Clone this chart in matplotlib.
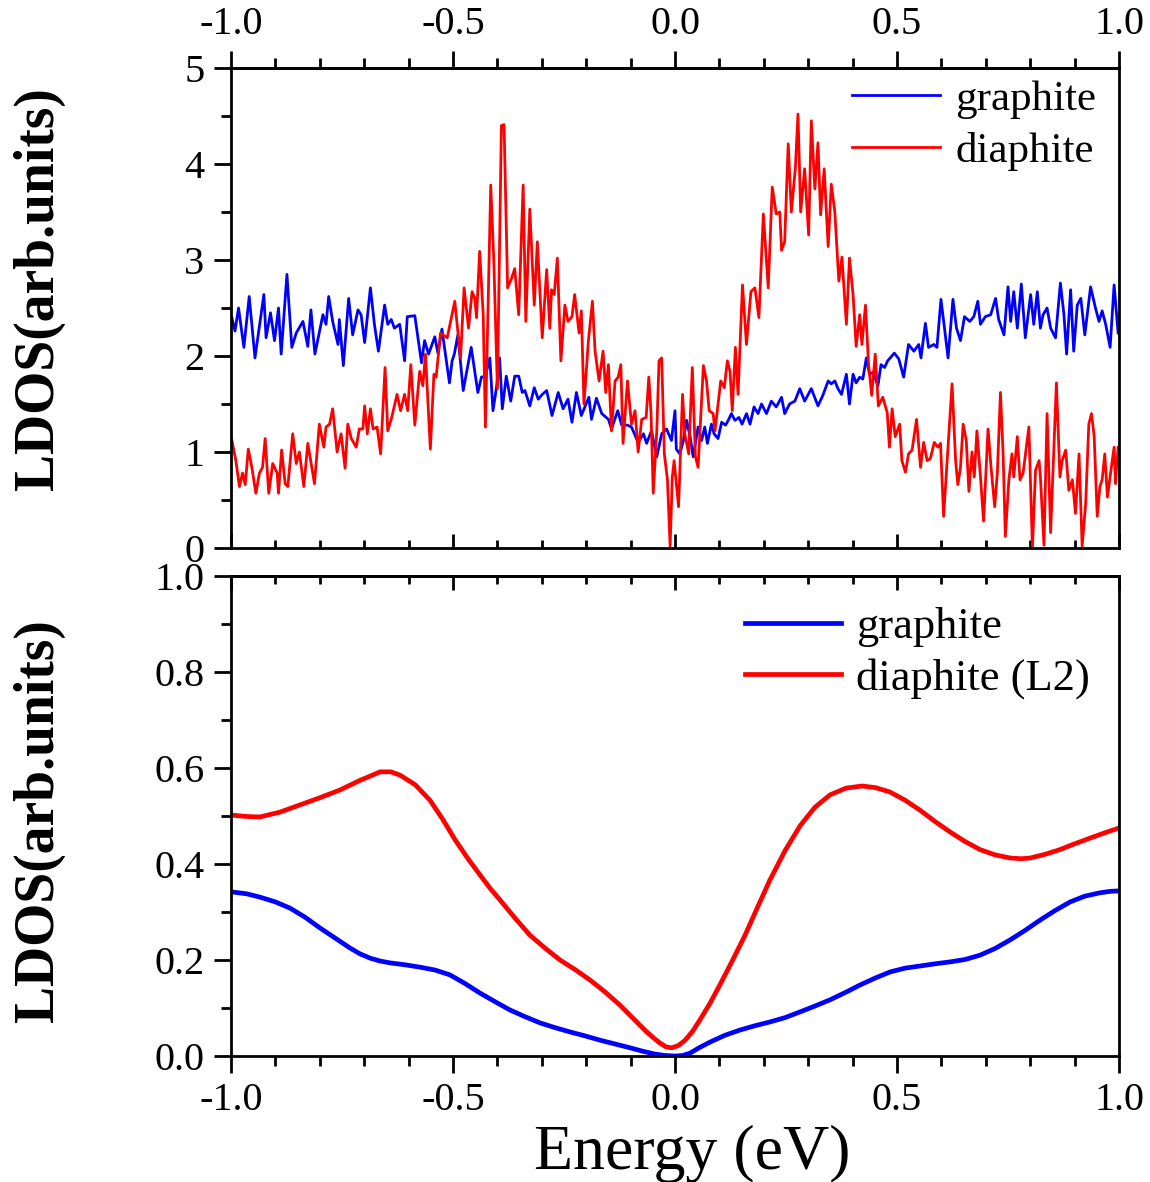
import numpy as np
import matplotlib
matplotlib.use("Agg")
import matplotlib.pyplot as plt
from matplotlib.ticker import MultipleLocator, FormatStrFormatter

plt.rcParams['font.family'] = ['Liberation Serif', 'DejaVu Serif']
plt.rcParams['axes.unicode_minus'] = False

# ---- top panel: raw LDOS ----
e_graphite = [-0.998, -0.991, -0.983, -0.971, -0.959, -0.946, -0.926, -0.921, -0.911, -0.902,
              -0.893, -0.887, -0.874, -0.863, -0.853, -0.838, -0.827, -0.820, -0.811, -0.793,
              -0.786, -0.780, -0.771, -0.759, -0.756, -0.747, -0.735, -0.726, -0.714, -0.707,
              -0.699, -0.686, -0.677, -0.668, -0.654, -0.647, -0.639, -0.632, -0.620, -0.609,
              -0.603, -0.586, -0.571, -0.564, -0.555, -0.541, -0.534, -0.525, -0.508, -0.502,
              -0.497, -0.489, -0.477, -0.459, -0.444, -0.436, -0.427, -0.417, -0.410, -0.402,
              -0.395, -0.389, -0.380, -0.370, -0.361, -0.352, -0.344, -0.338, -0.327, -0.317,
              -0.308, -0.299, -0.289, -0.277, -0.263, -0.252, -0.241, -0.232, -0.222, -0.211,
              -0.194, -0.188, -0.177, -0.165, -0.150, -0.143, -0.129, -0.120, -0.107, -0.098,
              -0.083, -0.071, -0.064, -0.053, -0.041, -0.030, -0.019, -0.008, 0.000, 0.003,
              0.011, 0.019, 0.026, 0.034, 0.041, 0.052, 0.060, 0.067, 0.073, 0.082,
              0.088, 0.097, 0.105, 0.114, 0.120, 0.127, 0.135, 0.144, 0.151, 0.161,
              0.169, 0.178, 0.187, 0.195, 0.206, 0.217, 0.228, 0.240, 0.247, 0.258,
              0.270, 0.281, 0.292, 0.307, 0.322, 0.333, 0.345, 0.352, 0.360, 0.367,
              0.375, 0.386, 0.393, 0.401, 0.408, 0.416, 0.423, 0.431, 0.438, 0.446,
              0.457, 0.464, 0.472, 0.479, 0.494, 0.504, 0.515, 0.526, 0.538, 0.549,
              0.554, 0.564, 0.571, 0.583, 0.590, 0.599, 0.607, 0.615, 0.626, 0.634,
              0.643, 0.652, 0.664, 0.673, 0.682, 0.688, 0.699, 0.711, 0.722, 0.729,
              0.741, 0.750, 0.756, 0.763, 0.771, 0.780, 0.789, 0.801, 0.808, 0.816,
              0.823, 0.829, 0.838, 0.846, 0.857, 0.868, 0.876, 0.882, 0.891, 0.898,
              0.906, 0.914, 0.923, 0.936, 0.947, 0.955, 0.962, 0.970, 0.980, 0.989,
              0.998]
ldos_graphite = [2.40, 2.26, 2.50, 2.09, 2.62, 1.98, 2.64, 2.19, 2.45, 2.16,
                 2.50, 2.02, 2.85, 2.09, 2.24, 2.36, 2.10, 2.48, 2.02, 2.43,
                 2.33, 2.62, 2.36, 2.12, 2.38, 1.90, 2.60, 2.22, 2.48, 2.43,
                 2.14, 2.71, 2.33, 2.05, 2.53, 2.33, 2.38, 2.29, 2.33, 1.95,
                 2.41, 2.42, 1.93, 2.16, 2.02, 2.20, 2.03, 2.28, 1.72, 1.95,
                 2.02, 2.22, 1.64, 2.09, 1.62, 1.78, 1.79, 1.98, 1.43, 1.67,
                 1.98, 1.45, 1.79, 1.53, 1.79, 1.79, 1.62, 1.64, 1.48, 1.67,
                 1.55, 1.60, 1.64, 1.38, 1.62, 1.45, 1.55, 1.31, 1.62, 1.38,
                 1.57, 1.34, 1.56, 1.40, 1.34, 1.24, 1.43, 1.28, 1.28, 1.26,
                 1.10, 1.19, 1.09, 1.22, 0.95, 1.19, 1.24, 1.12, 1.43, 1.03,
                 0.98, 1.12, 1.33, 1.16, 0.95, 1.26, 1.12, 1.26, 1.09, 1.29,
                 1.19, 1.14, 1.31, 1.28, 1.33, 1.40, 1.33, 1.36, 1.29, 1.40,
                 1.29, 1.47, 1.40, 1.50, 1.40, 1.53, 1.47, 1.57, 1.40, 1.50,
                 1.53, 1.66, 1.53, 1.66, 1.48, 1.59, 1.74, 1.71, 1.74, 1.66,
                 1.60, 1.81, 1.50, 1.81, 1.72, 1.78, 1.76, 1.98, 1.81, 1.83,
                 1.69, 1.91, 1.88, 1.95, 2.03, 1.97, 1.78, 2.12, 2.05, 2.12,
                 1.98, 2.34, 2.09, 2.12, 2.09, 2.59, 2.29, 1.98, 2.59, 2.29,
                 2.16, 2.41, 2.36, 2.41, 2.57, 2.33, 2.41, 2.43, 2.60, 2.38,
                 2.22, 2.72, 2.36, 2.67, 2.29, 2.75, 2.19, 2.64, 2.33, 2.67,
                 2.29, 2.43, 2.50, 2.29, 2.19, 2.76, 2.43, 2.02, 2.69, 2.05,
                 2.53, 2.60, 2.22, 2.72, 2.50, 2.36, 2.47, 2.33, 2.09, 2.74,
                 2.24]

e_diaphite = [-0.998, -0.989, -0.981, -0.974, -0.968, -0.961, -0.953, -0.944, -0.936, -0.929,
              -0.923, -0.915, -0.906, -0.896, -0.893, -0.886, -0.878, -0.872, -0.861, -0.853,
              -0.846, -0.836, -0.827, -0.812, -0.801, -0.791, -0.786, -0.778, -0.771, -0.761,
              -0.752, -0.743, -0.737, -0.729, -0.718, -0.711, -0.703, -0.699, -0.693, -0.686,
              -0.680, -0.671, -0.663, -0.653, -0.647, -0.638, -0.626, -0.618, -0.609, -0.602,
              -0.595, -0.586, -0.575, -0.568, -0.562, -0.551, -0.543, -0.538, -0.528, -0.520,
              -0.513, -0.496, -0.483, -0.475, -0.465, -0.457, -0.451, -0.447, -0.440, -0.432,
              -0.427, -0.415, -0.408, -0.400, -0.391, -0.385, -0.377, -0.368, -0.361, -0.352,
              -0.342, -0.336, -0.327, -0.317, -0.310, -0.299, -0.289, -0.282, -0.278, -0.272,
              -0.265, -0.257, -0.248, -0.241, -0.232, -0.226, -0.216, -0.211, -0.205, -0.195,
              -0.186, -0.180, -0.171, -0.162, -0.156, -0.150, -0.143, -0.135, -0.128, -0.122,
              -0.117, -0.107, -0.098, -0.090, -0.083, -0.075, -0.065, -0.059, -0.054, -0.049,
              -0.041, -0.036, -0.030, -0.024, -0.017, -0.011, -0.006, -0.002, 0.008, 0.017,
              0.022, 0.031, 0.039, 0.046, 0.052, 0.064, 0.071, 0.077, 0.086, 0.090,
              0.103, 0.111, 0.118, 0.124, 0.129, 0.136, 0.142, 0.152, 0.161, 0.171,
              0.180, 0.189, 0.199, 0.210, 0.219, 0.228, 0.236, 0.240, 0.247, 0.255,
              0.262, 0.271, 0.277, 0.283, 0.292, 0.301, 0.307, 0.315, 0.322, 0.328,
              0.336, 0.345, 0.352, 0.360, 0.369, 0.376, 0.386, 0.393, 0.401, 0.408,
              0.416, 0.421, 0.429, 0.436, 0.443, 0.451, 0.458, 0.468, 0.478, 0.483,
              0.489, 0.496, 0.506, 0.511, 0.519, 0.526, 0.534, 0.544, 0.553, 0.560,
              0.568, 0.575, 0.584, 0.592, 0.598, 0.605, 0.613, 0.624, 0.632, 0.637,
              0.643, 0.649, 0.656, 0.662, 0.669, 0.674, 0.680, 0.688, 0.695, 0.705,
              0.712, 0.720, 0.726, 0.733, 0.739, 0.744, 0.752, 0.759, 0.763, 0.771,
              0.777, 0.784, 0.797, 0.805, 0.812, 0.820, 0.823, 0.831, 0.838, 0.846,
              0.859, 0.867, 0.872, 0.880, 0.887, 0.895, 0.902, 0.910, 0.917, 0.925,
              0.932, 0.938, 0.944, 0.951, 0.957, 0.962, 0.968, 0.974, 0.981, 0.989,
              0.992, 0.998]
ldos_diaphite = [1.12, 0.91, 0.64, 0.78, 0.66, 1.03, 0.84, 0.57, 0.78, 0.84,
                 1.14, 0.57, 0.88, 0.78, 0.57, 1.02, 0.67, 0.64, 1.19, 0.88,
                 1.00, 0.64, 1.09, 0.67, 1.29, 1.05, 1.26, 1.29, 1.45, 1.00,
                 1.19, 0.83, 1.29, 1.14, 1.05, 1.24, 1.24, 1.48, 1.19, 1.45,
                 1.24, 1.26, 0.98, 1.88, 1.22, 1.36, 1.60, 1.43, 1.60, 1.43,
                 1.91, 1.28, 1.84, 1.69, 2.02, 1.03, 1.81, 1.78, 2.24, 2.21,
                 2.19, 2.57, 1.98, 2.71, 2.29, 2.67, 2.60, 2.40, 3.09, 2.43,
                 1.26, 3.78, 2.98, 1.66, 4.40, 4.41, 2.71, 2.81, 2.91, 2.43,
                 3.78, 2.36, 3.53, 2.53, 3.19, 2.19, 2.90, 2.29, 2.69, 2.64,
                 3.02, 1.95, 2.53, 2.36, 2.41, 2.64, 2.24, 2.47, 1.50, 2.16,
                 2.57, 2.05, 1.74, 2.05, 1.62, 1.91, 1.22, 1.74, 1.78, 1.91,
                 1.09, 1.74, 1.29, 1.43, 1.00, 1.34, 1.36, 1.78, 1.40, 0.57,
                 1.22, 1.95, 1.98, 0.98, 0.71, 0.02, 0.74, 0.91, 0.43, 1.60,
                 1.19, 0.98, 1.88, 0.95, 0.84, 1.90, 1.74, 1.43, 1.40, 1.22,
                 1.74, 1.67, 1.95, 1.84, 1.43, 2.09, 1.60, 2.74, 2.12, 2.67,
                 2.71, 2.40, 3.48, 2.71, 3.76, 3.48, 3.50, 3.10, 3.19, 4.21,
                 3.50, 3.95, 4.52, 3.50, 3.95, 3.26, 4.45, 3.74, 4.22, 3.47,
                 3.95, 3.14, 3.79, 3.50, 2.78, 3.03, 2.33, 3.02, 2.64, 2.10,
                 2.43, 2.12, 2.53, 1.91, 1.59, 2.02, 1.48, 1.57, 1.41, 1.05,
                 1.45, 1.16, 1.29, 0.91, 0.79, 0.98, 1.02, 1.34, 0.84, 1.10,
                 0.91, 0.93, 1.10, 1.05, 1.09, 0.33, 0.91, 1.71, 0.91, 0.66,
                 0.84, 1.29, 1.12, 0.59, 1.00, 0.74, 1.22, 0.74, 0.28, 1.24,
                 0.83, 0.43, 0.78, 1.62, 0.98, 0.12, 0.71, 0.98, 0.74, 1.16,
                 0.71, 0.78, 1.26, 0.00, 0.81, 0.91, 0.74, 0.03, 1.40, 0.16,
                 1.72, 0.74, 0.91, 1.02, 0.60, 0.71, 0.36, 0.98, 0.02, 0.47,
                 1.29, 1.40, 1.17, 0.33, 0.64, 0.71, 0.98, 0.53, 0.78, 1.05,
                 0.67, 1.05]

# ---- bottom panel: smoothed LDOS ----
e_graphite_s = [-1.0, -0.965, -0.935, -0.9, -0.867, -0.833, -0.8, -0.766, -0.732, -0.71,
                -0.687, -0.665, -0.642, -0.608, -0.574, -0.54, -0.507, -0.473, -0.439, -0.405,
                -0.372, -0.338, -0.304, -0.27, -0.236, -0.203, -0.169, -0.135, -0.101, -0.073,
                -0.045, -0.022, 0.0, 0.017, 0.034, 0.056, 0.079, 0.112, 0.146, 0.18,
                0.214, 0.248, 0.282, 0.315, 0.349, 0.383, 0.417, 0.45, 0.484, 0.518,
                0.552, 0.585, 0.619, 0.653, 0.687, 0.721, 0.755, 0.789, 0.822, 0.856,
                0.89, 0.923, 0.957, 0.98, 1.0]
ldos_graphite_s = [0.342, 0.338, 0.331, 0.321, 0.308, 0.289, 0.267, 0.246, 0.225, 0.213,
                   0.204, 0.198, 0.194, 0.19, 0.185, 0.179, 0.169, 0.151, 0.131, 0.113,
                   0.096, 0.082, 0.069, 0.059, 0.050, 0.042, 0.033, 0.025, 0.017, 0.010,
                   0.004, 0.001, 0.0, 0.001, 0.006, 0.018, 0.029, 0.043, 0.054, 0.063,
                   0.071, 0.080, 0.092, 0.104, 0.117, 0.132, 0.148, 0.162, 0.175, 0.183,
                   0.1875, 0.192, 0.196, 0.201, 0.210, 0.224, 0.242, 0.262, 0.283, 0.303,
                   0.321, 0.333, 0.340, 0.343, 0.344]

e_diaphite_s = [-1.0, -0.965, -0.935, -0.89, -0.845, -0.8, -0.755, -0.71, -0.664, -0.64,
                -0.619, -0.585, -0.552, -0.523, -0.495, -0.467, -0.439, -0.417, -0.394, -0.36,
                -0.327, -0.293, -0.259, -0.225, -0.191, -0.157, -0.124, -0.096, -0.068, -0.05,
                -0.034, -0.02, -0.007, 0.008, 0.023, 0.04, 0.056, 0.079, 0.101, 0.13,
                0.158, 0.186, 0.214, 0.248, 0.282, 0.315, 0.349, 0.385, 0.421, 0.452,
                0.484, 0.518, 0.552, 0.585, 0.619, 0.653, 0.687, 0.721, 0.755, 0.78,
                0.8, 0.833, 0.867, 0.9, 0.935, 0.968, 1.0]
ldos_diaphite_s = [0.502, 0.499, 0.498, 0.508, 0.523, 0.538, 0.554, 0.574, 0.592, 0.592,
                   0.585, 0.565, 0.533, 0.493, 0.450, 0.412, 0.377, 0.350, 0.325, 0.287,
                   0.252, 0.225, 0.200, 0.180, 0.158, 0.133, 0.106, 0.080, 0.054, 0.039,
                   0.027, 0.019, 0.017, 0.022, 0.033, 0.052, 0.075, 0.110, 0.148, 0.200,
                   0.252, 0.310, 0.367, 0.428, 0.480, 0.518, 0.544, 0.558, 0.5625, 0.559,
                   0.550, 0.533, 0.512, 0.489, 0.467, 0.447, 0.430, 0.419, 0.4125, 0.411,
                   0.4125, 0.420, 0.430, 0.442, 0.454, 0.465, 0.475]

W, H = 1150, 1182
fig = plt.figure(figsize=(W / 100, H / 100), dpi=100)
left, width = 231 / W, 888 / W
ax1 = fig.add_axes([left, 1 - 548 / H, width, 480 / H])
ax2 = fig.add_axes([left, 1 - 1056 / H, width, 480 / H])

blue = '#0000ff'
red = '#ff0000'
tick_fs = 29

ax1.plot(e_graphite, ldos_graphite, color=blue, lw=2.0, label='graphite')
ax1.plot(e_diaphite, ldos_diaphite, color=red, lw=2.0, label='diaphite')
ax2.plot(e_graphite_s, ldos_graphite_s, color=blue, lw=3.4, label='graphite',
         solid_joinstyle='round')
ax2.plot(e_diaphite_s, ldos_diaphite_s, color=red, lw=3.4, label='diaphite (L2)',
         solid_joinstyle='round')

for ax in (ax1, ax2):
    ax.set_xlim(-1, 1)
    for s in ax.spines.values():
        s.set_linewidth(2.0)
    ax.xaxis.set_major_locator(MultipleLocator(0.5))
    ax.xaxis.set_minor_locator(MultipleLocator(0.1))
    ax.xaxis.set_major_formatter(FormatStrFormatter('%.1f'))
    ax.tick_params(axis='y', which='both', direction='out', left=True, right=False,
                   labelsize=tick_fs, width=2.0, pad=7)
    ax.tick_params(axis='y', which='major', length=12)
    ax.tick_params(axis='y', which='minor', length=7)
    ax.set_ylabel('LDOS(arb.units)', fontsize=40, fontweight='bold')

ax1.set_ylim(0, 5)
ax1.yaxis.set_major_locator(MultipleLocator(1))
ax1.yaxis.set_minor_locator(MultipleLocator(0.5))
ax1.yaxis.set_major_formatter(FormatStrFormatter('%d'))
ax1.tick_params(axis='x', which='both', direction='in', bottom=True, top=False,
                labelbottom=False, width=2.0)
ax1.tick_params(axis='x', which='major', length=10)
ax1.tick_params(axis='x', which='minor', length=6)
top1 = ax1.secondary_xaxis('top')
top1.xaxis.set_major_locator(MultipleLocator(0.5))
top1.xaxis.set_minor_locator(MultipleLocator(0.1))
top1.xaxis.set_major_formatter(FormatStrFormatter('%.1f'))
top1.tick_params(axis='x', which='both', direction='out', width=2.0,
                 labelsize=tick_fs, pad=6)
top1.tick_params(axis='x', which='major', length=12)
top1.tick_params(axis='x', which='minor', length=7)
top1.spines['top'].set_linewidth(2.0)
ax1.yaxis.set_label_coords(-0.187, 0.54)

ax2.set_ylim(0, 1.0)
ax2.yaxis.set_major_locator(MultipleLocator(0.2))
ax2.yaxis.set_minor_locator(MultipleLocator(0.1))
ax2.yaxis.set_major_formatter(FormatStrFormatter('%.1f'))
ax2.tick_params(axis='x', which='both', direction='out', bottom=True, top=False,
                labelsize=tick_fs, width=2.0, pad=7)
ax2.tick_params(axis='x', which='major', length=12)
ax2.tick_params(axis='x', which='minor', length=7)
top2 = ax2.secondary_xaxis('top')
top2.xaxis.set_major_locator(MultipleLocator(0.5))
top2.xaxis.set_minor_locator(MultipleLocator(0.1))
top2.tick_params(axis='x', which='both', direction='in', width=2.0, labeltop=False)
top2.tick_params(axis='x', which='major', length=10)
top2.tick_params(axis='x', which='minor', length=6)
top2.spines['top'].set_linewidth(2.0)
ax2.yaxis.set_label_coords(-0.187, 0.49)
ax2.set_xlabel('Energy (eV)', fontsize=46)
ax2.xaxis.set_label_coords(0.519, -0.143)

ax1.legend(loc='upper left', bbox_to_anchor=(0.699, 0.975), frameon=False, fontsize=31,
           handlelength=2.05, handletextpad=0.36, labelspacing=0.3,
           borderpad=0, borderaxespad=0)
ax2.legend(loc='upper left', bbox_to_anchor=(0.579, 0.935), frameon=False, fontsize=32,
           handlelength=2.15, handletextpad=0.35, labelspacing=0.25,
           borderpad=0, borderaxespad=0)

fig.savefig('out.png', dpi=100)
